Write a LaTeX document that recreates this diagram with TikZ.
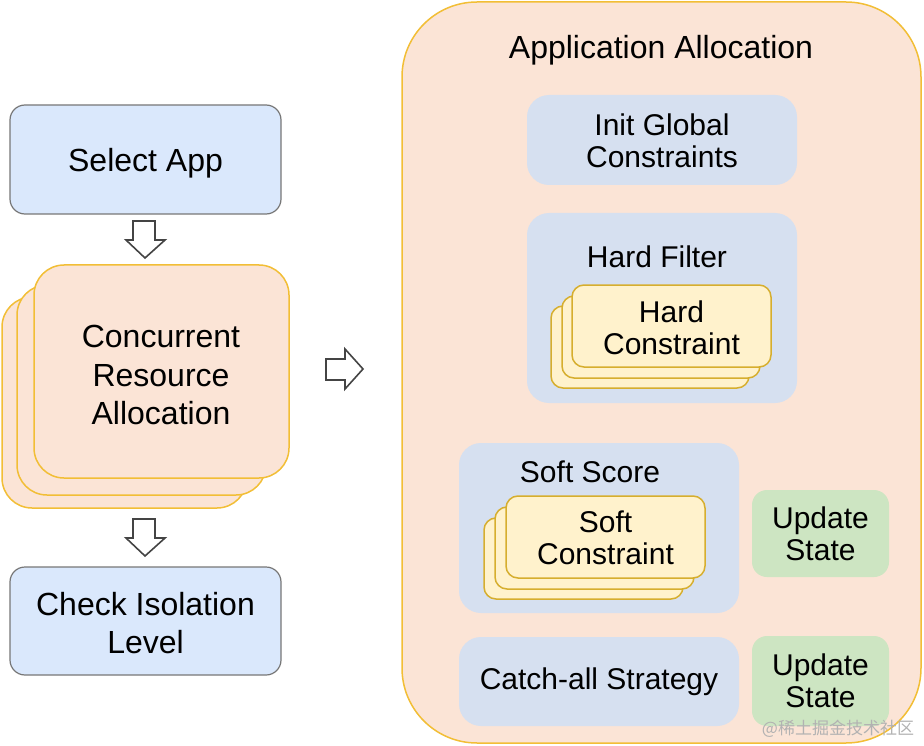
\documentclass[tikz,border=0pt]{standalone}
\usepackage{fontspec}
\setmainfont{Liberation Sans}
\newfontfamily\cjk{Noto Sans CJK SC}
\definecolor{lblue}{HTML}{DAE8FC}
\definecolor{lgray}{HTML}{777777}
\definecolor{peach}{HTML}{FBE4D6}
\definecolor{ystroke}{HTML}{F2BE36}
\definecolor{iblue}{HTML}{D6E0F0}
\definecolor{cream}{HTML}{FFF2CC}
\definecolor{gold}{HTML}{D6AE2E}
\definecolor{lgreen}{HTML}{CDE5C2}
\definecolor{arrowgray}{HTML}{444444}
\begin{document}
\begin{tikzpicture}[x=1pt,y=-1pt,
  bigtxt/.style={font=\fontsize{32}{38.5}\selectfont, align=center},
  smalltxt/.style={font=\fontsize{30}{32.5}\selectfont, align=center},
  leftbox/.style={fill=lblue, draw=lgray, line width=1.2pt, rounded corners=15pt},
  peachbox/.style={fill=peach, draw=ystroke, line width=1.5pt, rounded corners=30pt},
  innerbox/.style={fill=iblue, draw=none, rounded corners=22pt},
  creambox/.style={fill=cream, draw=gold, line width=1.5pt, rounded corners=12pt},
  greenbox/.style={fill=lgreen, draw=none, rounded corners=15pt},
  blockarrow/.style={fill=white, draw=arrowgray, line width=1.6pt, line join=miter}]
\useasboundingbox (0,0) rectangle (924,746);

% left column
\draw[leftbox] (10,105) rectangle (281,214);
\node[bigtxt] (select) at (145.5,163) {Select App};

\draw[blockarrow] (133,221) -- (155,221) -- (155,240) -- (165,240) -- (145,258) -- (126,240) -- (133,240) -- cycle;

\draw[peachbox] (2,297) rectangle (247,508);
\draw[peachbox] (17,285) rectangle (266,495);
\draw[peachbox] (34,265) rectangle (289,478);
\node[bigtxt] (conc) at (161,375) {Concurrent\\Resource\\Allocation};

\draw[blockarrow] (133,519) -- (155,519) -- (155,538) -- (165,538) -- (145,556) -- (126,538) -- (133,538) -- cycle;

\draw[leftbox] (10,567) rectangle (281,675);
\node[bigtxt] (check) at (145.5,623) {Check Isolation\\Level};

\draw[blockarrow] (326,359) -- (345,359) -- (345,349) -- (363,369) -- (345,389) -- (345,380) -- (326,380) -- cycle;

% application allocation
\draw[fill=peach, draw=ystroke, line width=1.5pt, rounded corners=75pt] (402,2) rectangle (921,743);
\node[bigtxt] (title) at (661,50) {Application Allocation};

\path[innerbox] (527,95) rectangle (797,185);
\node[smalltxt] (init) at (662,141) {Init Global\\Constraints};

\path[innerbox] (527,213) rectangle (797,403);
\node[smalltxt] (hf) at (657,257) {Hard Filter};
\draw[creambox] (551,306) rectangle (749,388);
\draw[creambox] (562,296) rectangle (760,378);
\draw[creambox] (572,285) rectangle (771,367);
\node[smalltxt] (hc) at (671.5,328) {Hard\\Constraint};

\path[innerbox] (459,443) rectangle (739,613);
\node[smalltxt] (ss) at (590,472) {Soft Score};
\draw[creambox] (484,518) rectangle (683,599);
\draw[creambox] (495,507) rectangle (694,589);
\draw[creambox] (506,496) rectangle (705,578);
\node[smalltxt] (sc) at (605.5,538) {Soft\\Constraint};

\path[greenbox] (752,490) rectangle (889,577);
\node[smalltxt] (us1) at (820.5,534) {Update\\State};

\path[innerbox] (459,637) rectangle (739,726);
\node[smalltxt] (catch) at (599,682) {Catch-all Strategy};

\path[greenbox] (752,636) rectangle (889,726);
\node[smalltxt] (us2) at (820.5,681) {Update\\State};

\node[text=black!30, font=\cjk\fontsize{17}{20}\selectfont] (wm) at (838,729) {@稀土掘金技术社区};
\end{tikzpicture}
\end{document}
